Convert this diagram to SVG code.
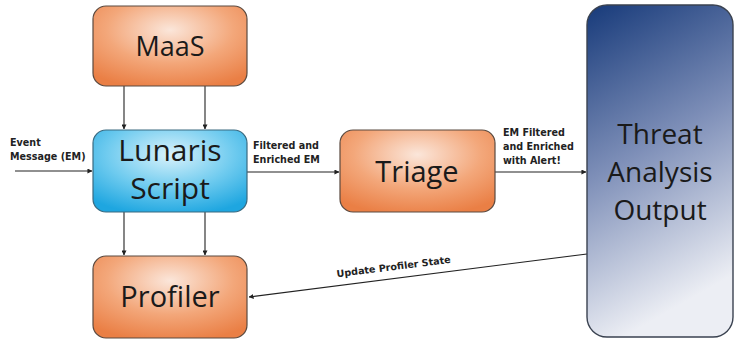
<svg xmlns="http://www.w3.org/2000/svg" width="735" height="339" viewBox="0 0 735 339">
  <style>
    .orange { fill: url(#gOrange); stroke: #5a4a40; stroke-width: 1.2; }
    .blue { fill: url(#gCyan); stroke: #3a6a80; stroke-width: 1.2; }
    .navy { fill: url(#gNavy); stroke: #3a4250; stroke-width: 1.4; }
    .big { font-family: "Open Sans", "Liberation Sans", sans-serif; fill: #1a1a1a; text-anchor: middle; }
    .lbl { font-family: "DejaVu Sans", "Liberation Sans", sans-serif; font-weight: bold; font-size: 9.6px; fill: #222; }
    .conn { stroke: #222; stroke-width: 1.1; fill: none; marker-end: url(#arrow); }
  </style>
  <defs>
    <radialGradient id="gOrange" cx="0.5" cy="0.3" r="0.75">
      <stop offset="0" stop-color="#fbe6da"/>
      <stop offset="0.55" stop-color="#f3a77a"/>
      <stop offset="1" stop-color="#ea7f45"/>
    </radialGradient>
    <radialGradient id="gCyan" cx="0.5" cy="0.3" r="0.75">
      <stop offset="0" stop-color="#d9f2fb"/>
      <stop offset="0.55" stop-color="#6fcbef"/>
      <stop offset="1" stop-color="#1ea6e0"/>
    </radialGradient>
    <linearGradient id="gNavy" x1="0" y1="0" x2="0.25" y2="1">
      <stop offset="0" stop-color="#173a7a"/>
      <stop offset="0.5" stop-color="#7e8fb8"/>
      <stop offset="1" stop-color="#eceef4"/>
    </linearGradient>
    <marker id="arrow" viewBox="0 0 6 6" refX="5.5" refY="3" markerWidth="5" markerHeight="5" orient="auto" markerUnits="userSpaceOnUse">
      <path d="M0,0 L6,3 L0,6 z" fill="#222"/>
    </marker>
  </defs>

  <!-- connectors -->
  <g id="connectors">
    <line class="conn" x1="124" y1="86" x2="124" y2="129"/>
    <line class="conn" x1="205" y1="86" x2="205" y2="129"/>
    <line class="conn" x1="124" y1="212" x2="124" y2="255"/>
    <line class="conn" x1="205" y1="212" x2="205" y2="255"/>
    <line class="conn" x1="15" y1="171" x2="92" y2="171"/>
    <line class="conn" x1="247" y1="172" x2="339" y2="172"/>
    <line class="conn" x1="495" y1="172" x2="586" y2="172"/>
    <line class="conn" x1="587" y1="254" x2="249" y2="297"/>
    <text class="lbl" x="10" y="146">Event</text>
    <text class="lbl" x="10" y="160">Message (EM)</text>
    <text class="lbl" x="253" y="149">Filtered and</text>
    <text class="lbl" x="253" y="163">Enriched EM</text>
    <text class="lbl" x="503" y="136">EM Filtered</text>
    <text class="lbl" x="503" y="150">and Enriched</text>
    <text class="lbl" x="503" y="164">with Alert!</text>
    <text class="lbl" x="394" y="270" text-anchor="middle" transform="rotate(-7.2 394 270)">Update Profiler State</text>
  </g>

  <g id="maas">
    <rect class="orange" x="93" y="6" width="154" height="80" rx="13"/>
    <text class="big" x="170" y="56" font-size="27">MaaS</text>
  </g>

  <g id="lunaris">
    <rect class="blue" x="93" y="130" width="154" height="82" rx="13"/>
    <text class="big" x="170" y="161" font-size="30">Lunaris</text>
    <text class="big" x="170" y="199" font-size="30">Script</text>
  </g>

  <g id="profiler">
    <rect class="orange" x="93" y="256" width="154" height="82" rx="13"/>
    <text class="big" x="170" y="307" font-size="29">Profiler</text>
  </g>

  <g id="triage">
    <rect class="orange" x="340" y="130" width="155" height="82" rx="13"/>
    <text class="big" x="417" y="182" font-size="29">Triage</text>
  </g>

  <g id="threat">
    <rect class="navy" x="587" y="5" width="146" height="332" rx="20"/>
    <text class="big" x="660" y="144" font-size="28">Threat</text>
    <text class="big" x="660" y="182" font-size="28">Analysis</text>
    <text class="big" x="660" y="220" font-size="28">Output</text>
  </g>
</svg>
